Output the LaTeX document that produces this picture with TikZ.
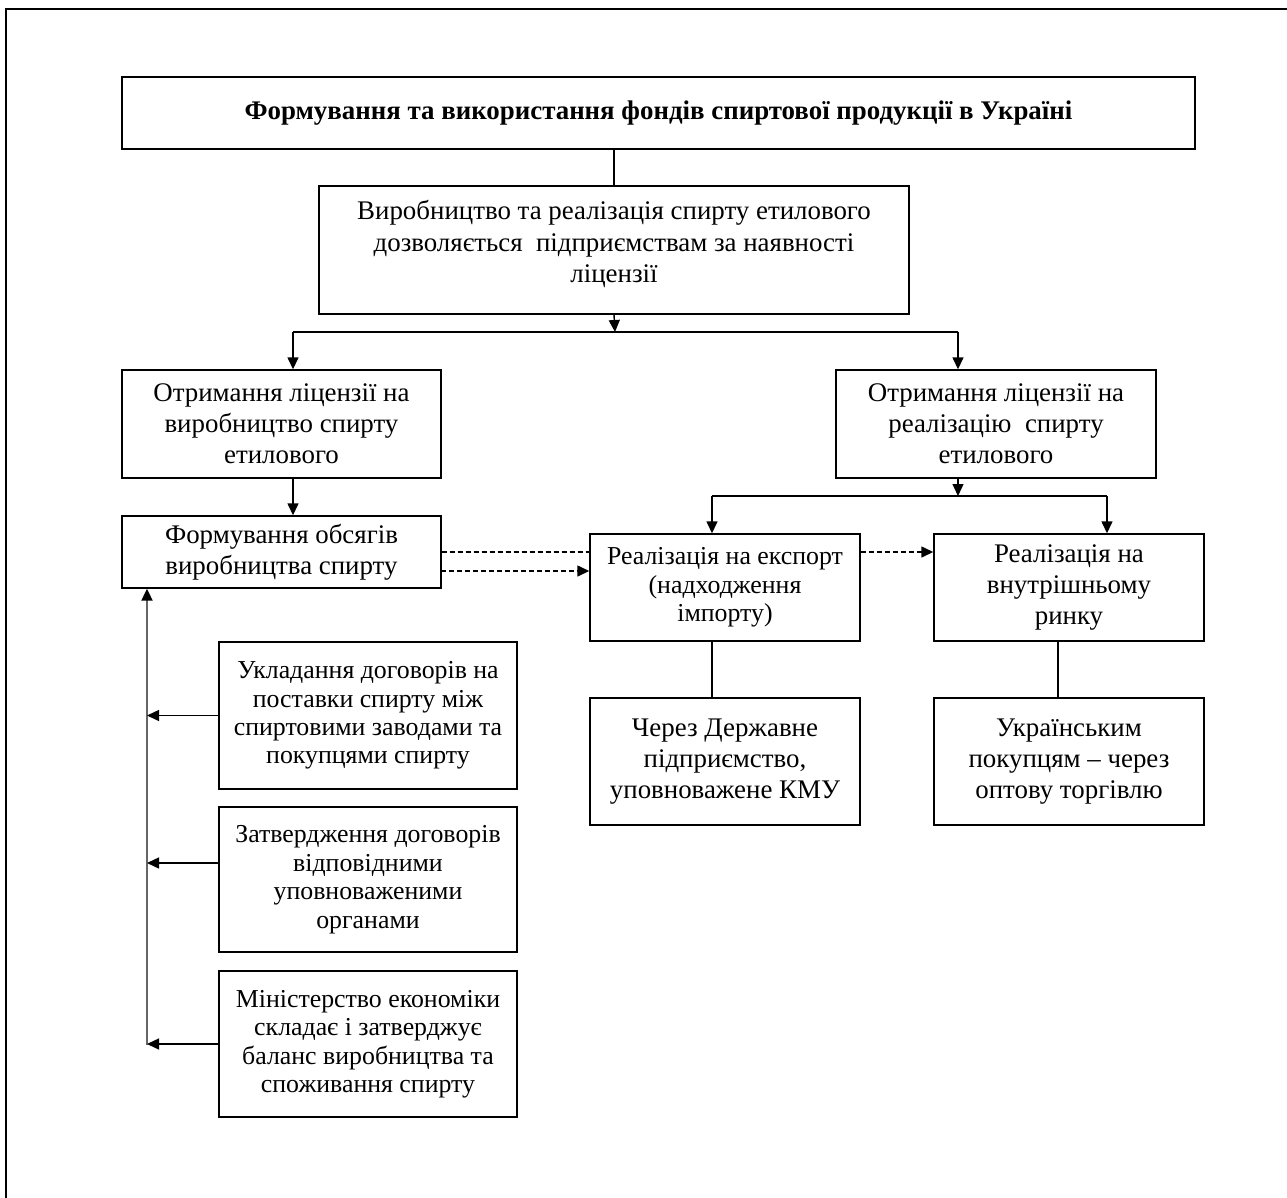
\documentclass[tikz,border=0pt]{standalone}
\usepackage{fontspec}
\setmainfont{Liberation Serif}
\usetikzlibrary{arrows.meta}

\tikzset{
	box/.style = {draw, line width = 0.8pt, rectangle, inner sep = 0pt, align = center,
		font = \fontsize{15.3}{17.7}\selectfont},
	smallbox/.style = {box, font = \fontsize{14.7}{16.2}\selectfont},
	link/.style = {line width = 0.8pt},
	arrow/.style = {link, -{Triangle[length = 2.4mm, width = 2.2mm]}},
	dashlink/.style = {link, dash pattern = on 1mm off 0.6mm}
}

\begin{document}
\begin{tikzpicture}[x = 0.2mm, y = -0.2mm]
	\useasboundingbox (0, 0) rectangle (1287, 1198);
	\draw[line width = 1.6pt] (6, 1198) -- (6, 9) -- (1287, 9);
	
	% boxes
	\node[box, minimum width = 21.46cm, minimum height = 1.44cm] (title) at (658.5, 113) {\textbf{Формування та використання фондів спиртової продукції в Україні}};
	\node[box, minimum width = 11.8cm, minimum height = 2.56cm] (permit) at (614, 250) {Виробництво та реалізація спирту етилового\\дозволяється\ \ підприємствам за наявності\\ліцензії\\[-8pt]};
	\node[box, minimum width = 6.38cm, minimum height = 2.16cm] (prodlic) at (281.5, 424) {Отримання ліцензії на\\виробництво спирту\\етилового};
	\node[box, minimum width = 6.4cm, minimum height = 2.16cm] (salelic) at (996, 424) {Отримання ліцензії на\\реалізацію\ \ спирту\\етилового};
	\node[box, minimum width = 6.38cm, minimum height = 1.44cm] (volume) at (281.5, 552) {Формування обсягів\\виробництва спирту};
	\node[smallbox, minimum width = 5.4cm, minimum height = 2.14cm] (export) at (725, 587.5) {Реалізація на експорт\\(надходження\\імпорту)};
	\node[box, minimum width = 5.4cm, minimum height = 2.14cm] (domestic) at (1069, 587.5) {Реалізація на\\внутрішньому\\ринку};
	\node[box, minimum width = 5.4cm, minimum height = 2.54cm] (state) at (725, 761.5) {Через Державне\\підприємство,\\уповноважене КМУ};
	\node[box, minimum width = 5.4cm, minimum height = 2.54cm] (buyers) at (1069, 761.5) {Українським\\покупцям -- через\\оптову торгівлю};
	\node[smallbox, minimum width = 5.96cm, minimum height = 2.94cm] (contracts) at (368, 715.5) {Укладання договорів на\\поставки спирту між\\спиртовими заводами та\\покупцями спирту};
	\node[smallbox, minimum width = 5.96cm, minimum height = 2.9cm] (approval) at (368, 879.5) {Затвердження договорів\\відповідними\\уповноваженими\\органами};
	\node[smallbox, minimum width = 5.96cm, minimum height = 2.92cm] (ministry) at (368, 1044) {Міністерство економіки\\складає і затверджує\\баланс виробництва та\\споживання спирту};
	
	% branch points
	\coordinate (split) at (615, 332);
	\coordinate (splitL) at (293, 332);
	\coordinate (splitR) at (958, 332);
	\coordinate (fork) at (958, 496);
	\coordinate (forkL) at (712, 496);
	\coordinate (forkR) at (1107, 496);
	\coordinate (bus) at (147, 1045);
	\coordinate (approvalIn) at (219, 863);
	
	% connectors
	\draw[link] (permit.north) -- (permit.north |- title.south);
	\draw[arrow] (permit.south) -- (split);
	\draw[link] (splitL) -- (splitR);
	\draw[arrow] (splitL) -- (splitL |- prodlic.north);
	\draw[arrow] (splitR) -- (splitR |- salelic.north);
	\draw[arrow] (splitL |- prodlic.south) -- (splitL |- volume.north);
	
	\draw[arrow] (fork |- salelic.south) -- (fork);
	\draw[link] (forkL) -- (forkR);
	\draw[arrow] (forkL) -- (forkL |- export.north);
	\draw[arrow] (forkR) -- (forkR |- domestic.north);
	
	\draw[link] (forkL |- export.south) -- (forkL |- state.north);
	\draw[link] (1058, 641) -- (1058, 698);
	
	\draw[dashlink] (volume.east) -- (volume.east -| export.west);
	\draw[dashlink, arrow] (441, 571) -- (export.west |- 0, 571);
	\draw[dashlink, arrow] (export.east |- volume.east) -- (domestic.west |- volume.east);
	
	\draw[line width = 1.2pt, black!60, -{Triangle[length = 2.4mm, width = 2.2mm, black]}] (bus) -- (bus |- volume.south);
	\draw[arrow] (contracts.west) -- (contracts.west -| bus);
	\draw[arrow] (approvalIn) -- (approvalIn -| bus);
	\draw[arrow] (ministry.west) -- (ministry.west -| bus);
\end{tikzpicture}
\end{document}
